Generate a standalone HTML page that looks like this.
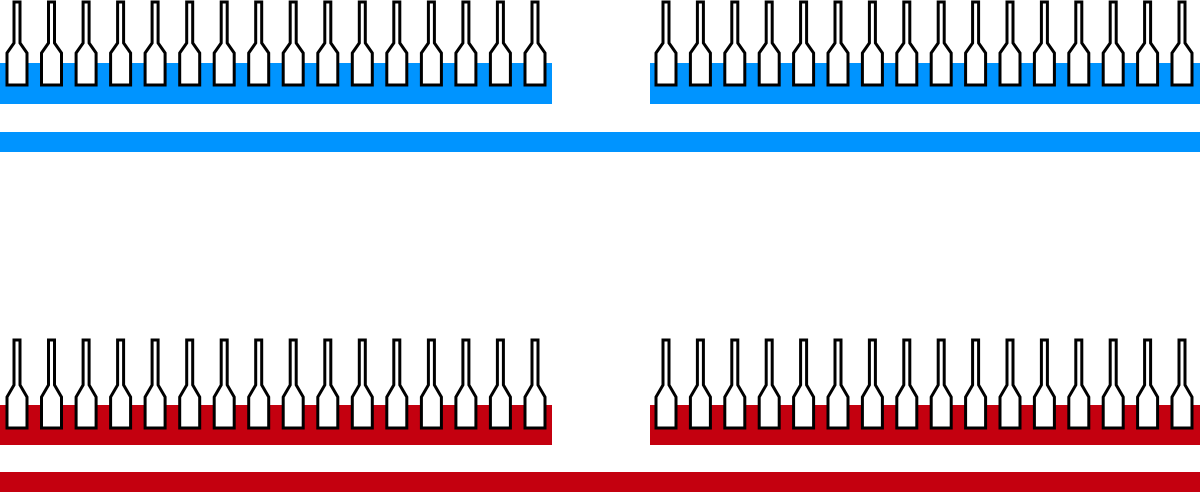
<!DOCTYPE html>
<html><head><meta charset="utf-8"><style>html,body{margin:0;padding:0;background:#fff}svg{display:block}</style></head>
<body>
<svg width="1200" height="492" viewBox="0 0 1200 492" xmlns="http://www.w3.org/2000/svg">
<defs>
<path id="t" d="M7,0 H13 V41 L20,51 V83 H0 V51 L7,41 Z" fill="#fff" stroke="#000" stroke-width="3"/>
<path id="b" d="M7,0 H13 V45 L20,57 V88 H0 V57 L7,45 Z" fill="#fff" stroke="#000" stroke-width="3"/>
</defs>
<rect x="0" y="63" width="552" height="41" fill="#0094ff"/>
<rect x="650" y="63" width="550" height="41" fill="#0094ff"/>
<rect x="0" y="132" width="1200" height="20" fill="#0094ff"/>
<rect x="0" y="405" width="552" height="40" fill="#c4000f"/>
<rect x="650" y="405" width="550" height="40" fill="#c4000f"/>
<rect x="0" y="472" width="1200" height="20" fill="#c4000f"/>
<g transform="translate(0,2)">
<use href="#t" x="7"/><use href="#t" x="41.5"/><use href="#t" x="76.1"/><use href="#t" x="110.6"/><use href="#t" x="145.1"/><use href="#t" x="179.7"/><use href="#t" x="214.2"/><use href="#t" x="248.7"/><use href="#t" x="283.2"/><use href="#t" x="317.8"/><use href="#t" x="352.3"/><use href="#t" x="386.8"/><use href="#t" x="421.4"/><use href="#t" x="455.9"/><use href="#t" x="490.4"/><use href="#t" x="525"/>
<use href="#t" x="656"/><use href="#t" x="690.4"/><use href="#t" x="724.8"/><use href="#t" x="759.2"/><use href="#t" x="793.6"/><use href="#t" x="828"/><use href="#t" x="862.4"/><use href="#t" x="896.8"/><use href="#t" x="931.2"/><use href="#t" x="965.6"/><use href="#t" x="1000"/><use href="#t" x="1034.4"/><use href="#t" x="1068.8"/><use href="#t" x="1103.2"/><use href="#t" x="1137.6"/><use href="#t" x="1172"/>
</g>
<g transform="translate(0,340)">
<use href="#b" x="7"/><use href="#b" x="41.5"/><use href="#b" x="76.1"/><use href="#b" x="110.6"/><use href="#b" x="145.1"/><use href="#b" x="179.7"/><use href="#b" x="214.2"/><use href="#b" x="248.7"/><use href="#b" x="283.2"/><use href="#b" x="317.8"/><use href="#b" x="352.3"/><use href="#b" x="386.8"/><use href="#b" x="421.4"/><use href="#b" x="455.9"/><use href="#b" x="490.4"/><use href="#b" x="525"/>
<use href="#b" x="656"/><use href="#b" x="690.4"/><use href="#b" x="724.8"/><use href="#b" x="759.2"/><use href="#b" x="793.6"/><use href="#b" x="828"/><use href="#b" x="862.4"/><use href="#b" x="896.8"/><use href="#b" x="931.2"/><use href="#b" x="965.6"/><use href="#b" x="1000"/><use href="#b" x="1034.4"/><use href="#b" x="1068.8"/><use href="#b" x="1103.2"/><use href="#b" x="1137.6"/><use href="#b" x="1172"/>
</g>
</svg>
</body></html>
